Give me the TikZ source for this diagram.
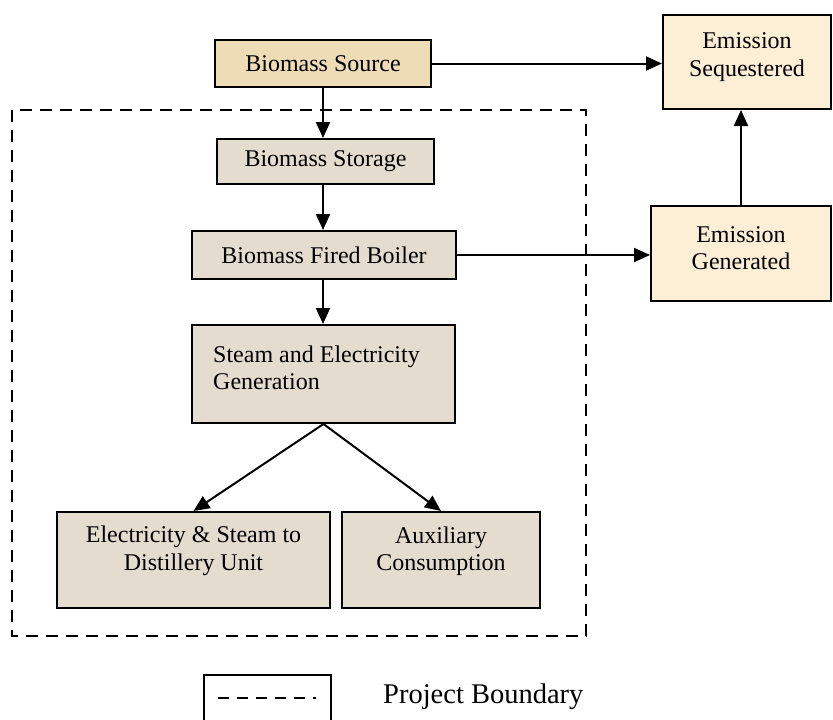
\documentclass[tikz,border=0pt]{standalone}
\usepackage{fontspec}
\setmainfont{Liberation Serif}
\usetikzlibrary{arrows.meta}
\definecolor{srcfill}{HTML}{EEDCB6}
\definecolor{emfill}{HTML}{FCEFD5}
\definecolor{boxfill}{HTML}{E3DCCF}
\tikzset{
  box/.style={draw=black, line width=2pt, rectangle, inner sep=0pt},
  txt/.style={inner sep=0pt, align=center, font=\fontsize{24}{27.5}\selectfont},
  arr/.style={line width=2pt, -{Triangle[length=16pt,width=14pt]}},
  boundary/.style={line width=2.6pt, dash pattern=on 12pt off 8pt},
}
\begin{document}
\begin{tikzpicture}[x=1pt,y=-1pt]
\useasboundingbox (0,0) rectangle (833,720);
% boxes
\node[box, fill=srcfill, minimum width=216, minimum height=47] (src) at (323,63.5) {};
\node[box, fill=emfill, minimum width=168, minimum height=94] (seq) at (747,62) {};
\node[box, fill=boxfill, minimum width=217, minimum height=45] (sto) at (325.5,161.5) {};
\node[box, fill=boxfill, minimum width=264, minimum height=48] (boil) at (324,255) {};
\node[box, fill=emfill, minimum width=180, minimum height=95] (gen) at (741,253.5) {};
\node[box, fill=boxfill, minimum width=263, minimum height=98] (steam) at (323.5,374) {};
\node[box, fill=boxfill, minimum width=273, minimum height=96] (dist) at (193.5,560) {};
\node[box, fill=boxfill, minimum width=198, minimum height=96] (aux) at (441,560) {};
% texts
\node[txt] (tsrc) at (323,64) {Biomass Source};
\node[txt] (tseq) at (747,57) {Emission\\Sequestered};
\node[txt] (tsto) at (325.5,161) {Biomass Storage};
\node[txt] (tboil) at (324,255) {Biomass Fired Boiler};
\node[txt] (tgen) at (741,248) {Emission\\Generated};
\node[txt, align=left, anchor=west] (tsteam) at (213,368) {Steam and Electricity\\Generation};
\node[txt] (tdist) at (193.5,551) {Electricity \& Steam to\\Distillery Unit};
\node[txt] (taux) at (441,551) {Auxiliary\\Consumption};
% project boundary
\draw[boundary] (12,110) rectangle (586,636);
% connectors
\draw[arr] (src.south) -- (src.south |- sto.north);
\draw[arr] (sto.south -| src.south) -- (src.south |- boil.north);
\draw[arr] (boil.south -| src.south) -- (src.south |- steam.north);
\draw[arr] (steam.south) -- (dist.north);
\draw[arr] (steam.south) -- (aux.north);
\draw[arr] (src.east) -- (src.east -| seq.west);
\draw[arr] (boil.east) -- (boil.east -| gen.west);
\draw[arr] (gen.north) -- (gen.north |- seq.south);
% legend
\node[draw=black, line width=2pt, minimum width=127, minimum height=60, inner sep=0pt] (leg) at (267.5,705) {};
\coordinate (la) at (218,698);
\coordinate (lb) at (316,698);
\draw[line width=2.2pt, dash pattern=on 11pt off 8pt] (la) -- (lb);
\node[txt, anchor=west, font=\fontsize{28.5}{32}\selectfont] (tleg) at (383,697) {Project Boundary};
\end{tikzpicture}
\end{document}
